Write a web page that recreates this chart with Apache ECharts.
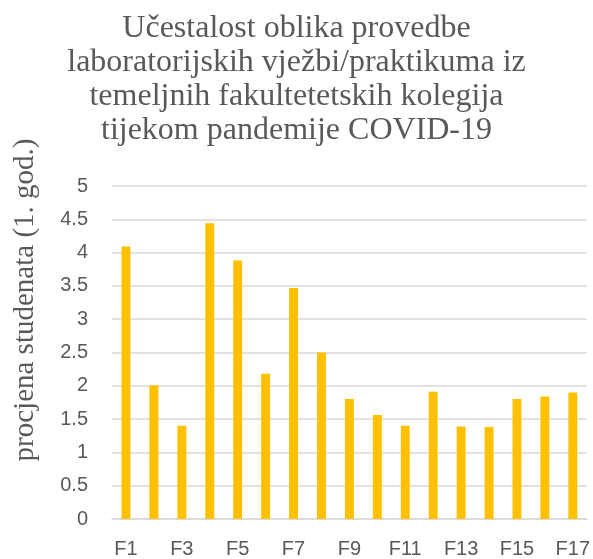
<!DOCTYPE html>
<html><head><meta charset="utf-8">
<script src="https://cdn.jsdelivr.net/npm/echarts@6/dist/echarts.min.js"></script>
<style>html,body{margin:0;padding:0;background:#fff}#c{width:593px;height:559px}</style>
</head><body><div id="c"></div>
<script>
const categories = ['F1','F2','F3','F4','F5','F6','F7','F8','F9','F10','F11','F12','F13','F14','F15','F16','F17'];
const values = [4.09, 2.01, 1.40, 4.44, 3.88, 2.18, 3.47, 2.50, 1.80, 1.56, 1.40, 1.91, 1.39, 1.38, 1.80, 1.84, 1.90];
const titleText = 'Učestalost oblika provedbe\nlaboratorijskih vježbi/praktikuma iz\ntemeljnih fakultetetskih kolegija\ntijekom pandemije COVID-19';
const yAxisName = 'procjena studenata (1. god.)';

const chart = echarts.init(document.getElementById('c'));
chart.setOption({
  animation: false,
  title: {
    text: titleText, left: 'center', top: 7,
    textStyle: { fontFamily: 'Liberation Serif', fontWeight: 'normal', fontSize: 32, lineHeight: 34, color: '#595959' }
  },
  graphic: [{
    type: 'text', x: 25, y: 300, rotation: Math.PI / 2,
    style: { text: yAxisName, fontFamily: 'Liberation Serif', fontSize: 29, fill: '#595959', align: 'center', verticalAlign: 'middle' }
  }],
  grid: { left: 112, right: 4, top: 186, bottom: 40 },
  xAxis: {
    type: 'category', data: categories,
    axisLine: { show: true, lineStyle: { color: '#d9d9d9', width: 1.5 } },
    axisTick: { show: false },
    axisLabel: { interval: 1, color: '#595959', fontFamily: 'Liberation Sans', fontSize: 20, margin: 20 }
  },
  yAxis: {
    type: 'value', min: 0, max: 5, interval: 0.5,
    axisLine: { show: false }, axisTick: { show: false },
    axisLabel: { color: '#595959', fontFamily: 'Liberation Sans', fontSize: 20, margin: 24 },
    splitLine: { lineStyle: { color: '#d9d9d9', width: 1.5 } }
  },
  series: [{
    type: 'bar', data: values, barWidth: '32%',
    itemStyle: { color: '#ffc000' }
  }]
});
</script></body></html>
